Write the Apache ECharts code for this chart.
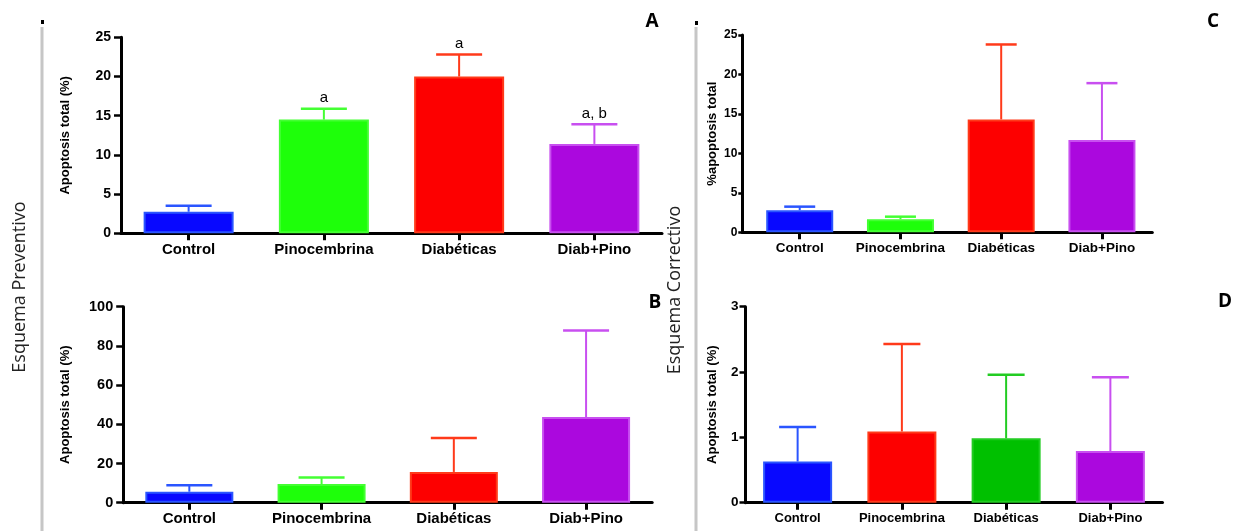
<!DOCTYPE html>
<html>
<head>
<meta charset="utf-8">
<script src="https://cdn.jsdelivr.net/npm/echarts@6/dist/echarts.min.js"></script>
<style>
html,body{margin:0;padding:0;background:#fff;}
#chart{width:1239px;height:531px;}
</style>
</head>
<body>
<div id="chart"></div>
<script>
// ---------- data ----------
const categories = ['Control', 'Pinocembrina', 'Diabéticas', 'Diab+Pino'];

const meanA = [2.75, 14.5, 20.0, 11.4];
const errA  = [0.75, 1.4, 2.8, 2.5];
const sigA  = ['', 'a', 'a', 'a, b'];

const meanB = [5.6, 9.5, 15.7, 43.7];
const errB  = [3.3, 3.3, 17.3, 44.1];

const meanC = [2.8, 1.65, 14.3, 11.7];
const errC  = [0.45, 0.33, 9.5, 7.2];

const meanD = [0.63, 1.09, 0.985, 0.79];
const errD  = [0.53, 1.34, 0.975, 1.13];

const ticksA = [0, 5, 10, 15, 20, 25];
const ticksB = [0, 20, 40, 60, 80, 100];
const ticksC = [0, 5, 10, 15, 20, 25];
const ticksD = [0, 1, 2, 3];

const yTitleAB = 'Apoptosis total (%)';
const yTitleC = '%apoptosis total';
const yTitleD = 'Apoptosis total (%)';

// ---------- styles ----------
const BLUE = {fill: '#0808ff', edge: '#2a55ff'};
const GREEN = {fill: '#1eff0a', edge: '#44ff33'};
const RED = {fill: '#fd0000', edge: '#ff3a1a'};
const PURPLE = {fill: '#ab08de', edge: '#c84ff0'};
const DGREEN = {fill: '#00c000', edge: '#22cc22'};

const colorsABC = [BLUE, GREEN, RED, PURPLE];
const colorsD = [BLUE, RED, DGREEN, PURPLE];

const SANS = "'Liberation Sans', Arial, sans-serif";

const panels = [
  {mean: meanA, err: errA, sig: sigA, ticks: ticksA, colors: colorsABC, title: yTitleAB,
   grid: {left: 121, top: 37.3, width: 541, height: 196}, xMin: -0.5, barW: 90, cap: 23,
   tickSize: 14, catSize: 15, titleSize: 13, nameGap: 49, labMargin: 10, yTick: 7},
  {mean: meanB, err: errB, sig: null, ticks: ticksB, colors: colorsABC, title: yTitleAB,
   grid: {left: 123.2, top: 306.7, width: 529, height: 196}, xMin: -0.5, barW: 88, cap: 23,
   tickSize: 14.5, catSize: 15, titleSize: 13, nameGap: 51, labMargin: 10, yTick: 7},
  {mean: meanC, err: errC, sig: null, ticks: ticksC, colors: colorsABC, title: yTitleC,
   grid: {left: 742.3, top: 35, width: 410, height: 197.3}, xMin: -0.57, barW: 67, cap: 15.5,
   tickSize: 12, catSize: 13.5, titleSize: 13, nameGap: 23, labMargin: 5, yTick: 4},
  {mean: meanD, err: errD, sig: null, ticks: ticksD, colors: colorsD, title: yTitleD,
   grid: {left: 745.5, top: 306.7, width: 417, height: 196}, xMin: -0.5, barW: 69, cap: 18.5,
   tickSize: 13.5, catSize: 13, titleSize: 13, nameGap: 27, labMargin: 7, yTick: 6}
];

const grids = [], xAxes = [], yAxes = [], series = [];

panels.forEach((p, k) => {
  grids.push(Object.assign({containLabel: false}, p.grid));
  xAxes.push({
    type: 'value', gridIndex: k, min: p.xMin, max: 3.5,
    splitLine: {show: false},
    axisLine: {show: true, onZero: false, lineStyle: {color: '#000', width: 3}},
    axisTick: {show: true, customValues: [0, 1, 2, 3], length: 7, inside: false,
               lineStyle: {color: '#000', width: 3}},
    axisLabel: {customValues: [0, 1, 2, 3], formatter: v => categories[Math.round(v)] || '',
                fontFamily: SANS, fontWeight: 'bold', fontSize: p.catSize, color: '#000', margin: 9}
  });
  const tmax = p.ticks[p.ticks.length - 1];
  yAxes.push({
    type: 'value', gridIndex: k, min: 0, max: tmax, interval: p.ticks[1] - p.ticks[0],
    splitLine: {show: false},
    axisLine: {show: true, onZero: false, lineStyle: {color: '#000', width: 3}},
    axisTick: {show: true, length: p.yTick, inside: false, lineStyle: {color: '#000', width: 2.5}},
    axisLabel: {fontFamily: SANS, fontWeight: 'bold', fontSize: p.tickSize, color: '#000', margin: p.labMargin},
    name: p.title, nameLocation: 'middle', nameGap: p.nameGap, nameRotate: 90,
    nameTextStyle: {fontFamily: SANS, fontWeight: 'bold', fontSize: p.titleSize, color: '#000'}
  });
  series.push({
    type: 'bar', xAxisIndex: k, yAxisIndex: k, barWidth: p.barW, z: 2,
    data: p.mean.map((m, i) => ({
      value: [i, m],
      itemStyle: {color: p.colors[i].fill, borderColor: p.colors[i].edge, borderWidth: 2}
    })),
    animation: false
  });
  series.push({
    type: 'custom', xAxisIndex: k, yAxisIndex: k, z: 3, clip: false,
    data: p.mean.map((m, i) => [i, m, p.err[i]]),
    encode: {x: 0, y: 1},
    renderItem: (params, api) => {
      const i = api.value(0), m = api.value(1), e = api.value(2);
      const base = api.coord([i, m]);
      const top = api.coord([i, m + e]);
      const col = p.colors[params.dataIndex].edge;
      const children = [
        {type: 'line', shape: {x1: base[0], y1: base[1], x2: top[0], y2: top[1]},
         style: {stroke: col, lineWidth: 2}},
        {type: 'line', shape: {x1: top[0] - p.cap, y1: top[1], x2: top[0] + p.cap, y2: top[1]},
         style: {stroke: col, lineWidth: 2.5}}
      ];
      if (p.sig && p.sig[params.dataIndex]) {
        children.push({type: 'text', x: top[0], y: top[1] - 3,
          style: {text: p.sig[params.dataIndex], fill: '#000', fontFamily: SANS,
                  fontSize: 15, align: 'center', verticalAlign: 'bottom'}});
      }
      return {type: 'group', children: children};
    },
    animation: false
  });
});

const letterStyle = {fill: '#000', fontFamily: 'Open Sans', fontWeight: 'bold', fontSize: 19,
                     align: 'center', verticalAlign: 'middle'};
const graphic = [
  {type: 'line', shape: {x1: 42, y1: 27, x2: 42, y2: 531}, style: {stroke: '#c6c6c6', lineWidth: 3}},
  {type: 'rect', shape: {x: 41, y: 20, width: 3, height: 4}, style: {fill: '#000'}},
  {type: 'line', shape: {x1: 696, y1: 27, x2: 696, y2: 531}, style: {stroke: '#c6c6c6', lineWidth: 3}},
  {type: 'rect', shape: {x: 695, y: 21, width: 3, height: 4}, style: {fill: '#000'}},
  {type: 'text', x: 20, y: 287, rotation: Math.PI / 2,
   style: {text: 'Esquema Preventivo', fill: '#222', fontFamily: 'Open Sans', fontSize: 18,
           align: 'center', verticalAlign: 'middle'}},
  {type: 'text', x: 675, y: 290, rotation: Math.PI / 2,
   style: {text: 'Esquema Correctivo', fill: '#222', fontFamily: 'Open Sans', fontSize: 18,
           align: 'center', verticalAlign: 'middle'}},
  {type: 'text', x: 652, y: 22, style: Object.assign({text: 'A'}, letterStyle)},
  {type: 'text', x: 655, y: 303, style: Object.assign({text: 'B'}, letterStyle)},
  {type: 'text', x: 1213, y: 22, style: Object.assign({text: 'C'}, letterStyle)},
  {type: 'text', x: 1225, y: 302, style: Object.assign({text: 'D'}, letterStyle)}
];

const chart = echarts.init(document.getElementById('chart'), null, {renderer: 'canvas'});
chart.setOption({
  backgroundColor: '#fff',
  animation: false,
  grid: grids,
  xAxis: xAxes,
  yAxis: yAxes,
  series: series,
  graphic: graphic
});
</script>
</body>
</html>
